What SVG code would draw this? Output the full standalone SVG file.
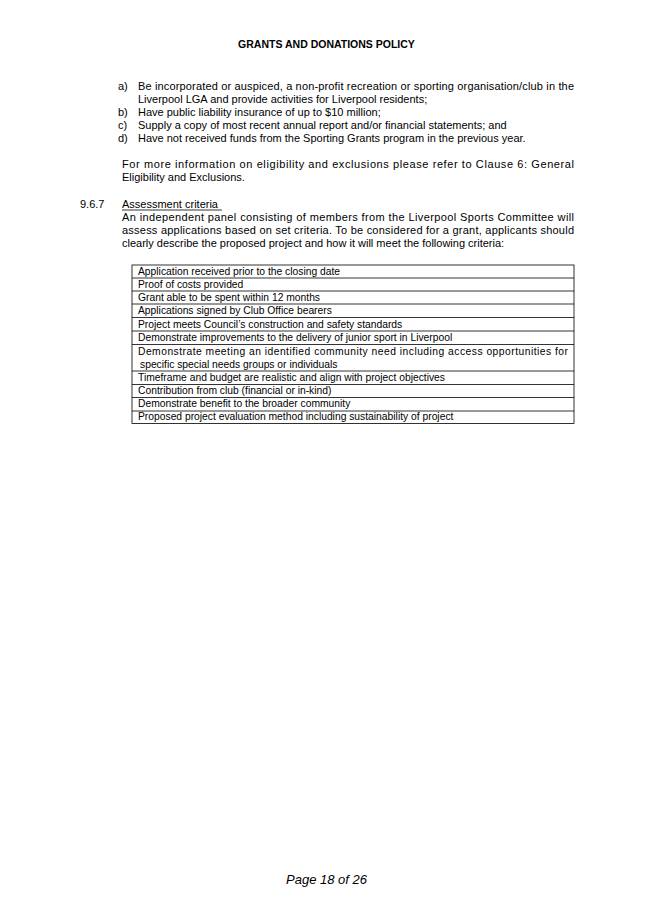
<svg xmlns="http://www.w3.org/2000/svg" width="653" height="923" viewBox="0 0 653 923">
<style>
text{font-family:"Liberation Sans",Arial,sans-serif;font-size:11px;fill:#000}
.t{font-size:10.3px}
.l{stroke:#000;stroke-width:0.8}
</style>
<rect width="653" height="923" fill="#fff"/>
<text x="326.5" y="48" text-anchor="middle" style="font-weight:bold;font-size:10.5px">GRANTS AND DONATIONS POLICY</text>
<g id="list">
<text x="118" y="90">a)</text><text x="138" y="90" textLength="436" lengthAdjust="spacing">Be incorporated or auspiced, a non-profit recreation or sporting organisation/club in the</text>
<text x="138" y="103">Liverpool LGA and provide activities for Liverpool residents;</text>
<text x="118" y="116">b)</text><text x="138" y="116">Have public liability insurance of up to $10 million;</text>
<text x="118" y="129">c)</text><text x="138" y="129">Supply a copy of most recent annual report and/or financial statements; and</text>
<text x="118" y="142">d)</text><text x="138" y="142">Have not received funds from the Sporting Grants program in the previous year.</text>
<text x="122" y="168" textLength="452" lengthAdjust="spacing">For more information on eligibility and exclusions please refer to Clause 6: General</text>
<text x="122" y="181">Eligibility and Exclusions.</text>
</g>
<g id="section">
<text x="80" y="208">9.6.7</text>
<text x="122" y="208">Assessment criteria</text>
<line x1="122" y1="210" x2="222" y2="210" class="l"/>
<text x="122" y="221" textLength="452" lengthAdjust="spacing">An independent panel consisting of members from the Liverpool Sports Committee will</text>
<text x="122" y="234" textLength="452" lengthAdjust="spacing">assess applications based on set criteria. To be considered for a grant, applicants should</text>
<text x="122" y="247">clearly describe the proposed project and how it will meet the following criteria:</text>
</g>
<g id="table">
<rect x="132" y="265" width="442" height="158.5" fill="none" class="l"/>
<line x1="132" y1="278" x2="574" y2="278" class="l"/>
<line x1="132" y1="291" x2="574" y2="291" class="l"/>
<line x1="132" y1="304" x2="574" y2="304" class="l"/>
<line x1="132" y1="317.5" x2="574" y2="317.5" class="l"/>
<line x1="132" y1="331" x2="574" y2="331" class="l"/>
<line x1="132" y1="344.5" x2="574" y2="344.5" class="l"/>
<line x1="132" y1="371" x2="574" y2="371" class="l"/>
<line x1="132" y1="384.5" x2="574" y2="384.5" class="l"/>
<line x1="132" y1="397.5" x2="574" y2="397.5" class="l"/>
<line x1="132" y1="411" x2="574" y2="411" class="l"/>
<text class="t" x="138" y="275">Application received prior to the closing date</text>
<text class="t" x="138" y="288">Proof of costs provided</text>
<text class="t" x="138" y="301">Grant able to be spent within 12 months</text>
<text class="t" x="138" y="314">Applications signed by Club Office bearers</text>
<text class="t" x="138" y="328">Project meets Council’s construction and safety standards</text>
<text class="t" x="138" y="341">Demonstrate improvements to the delivery of junior sport in Liverpool</text>
<text class="t" x="138" y="355" textLength="430" lengthAdjust="spacing">Demonstrate meeting an identified community need including access opportunities for</text>
<text class="t" x="140" y="368">specific special needs groups or individuals</text>
<text class="t" x="138" y="381">Timeframe and budget are realistic and align with project objectives</text>
<text class="t" x="138" y="394">Contribution from club (financial or in-kind)</text>
<text class="t" x="138" y="407">Demonstrate benefit to the broader community</text>
<text class="t" x="138" y="420">Proposed project evaluation method including sustainability of project</text>
</g>
<text x="326.5" y="884" text-anchor="middle" style="font-style:italic;font-size:13px">Page 18 of 26</text>
</svg>
